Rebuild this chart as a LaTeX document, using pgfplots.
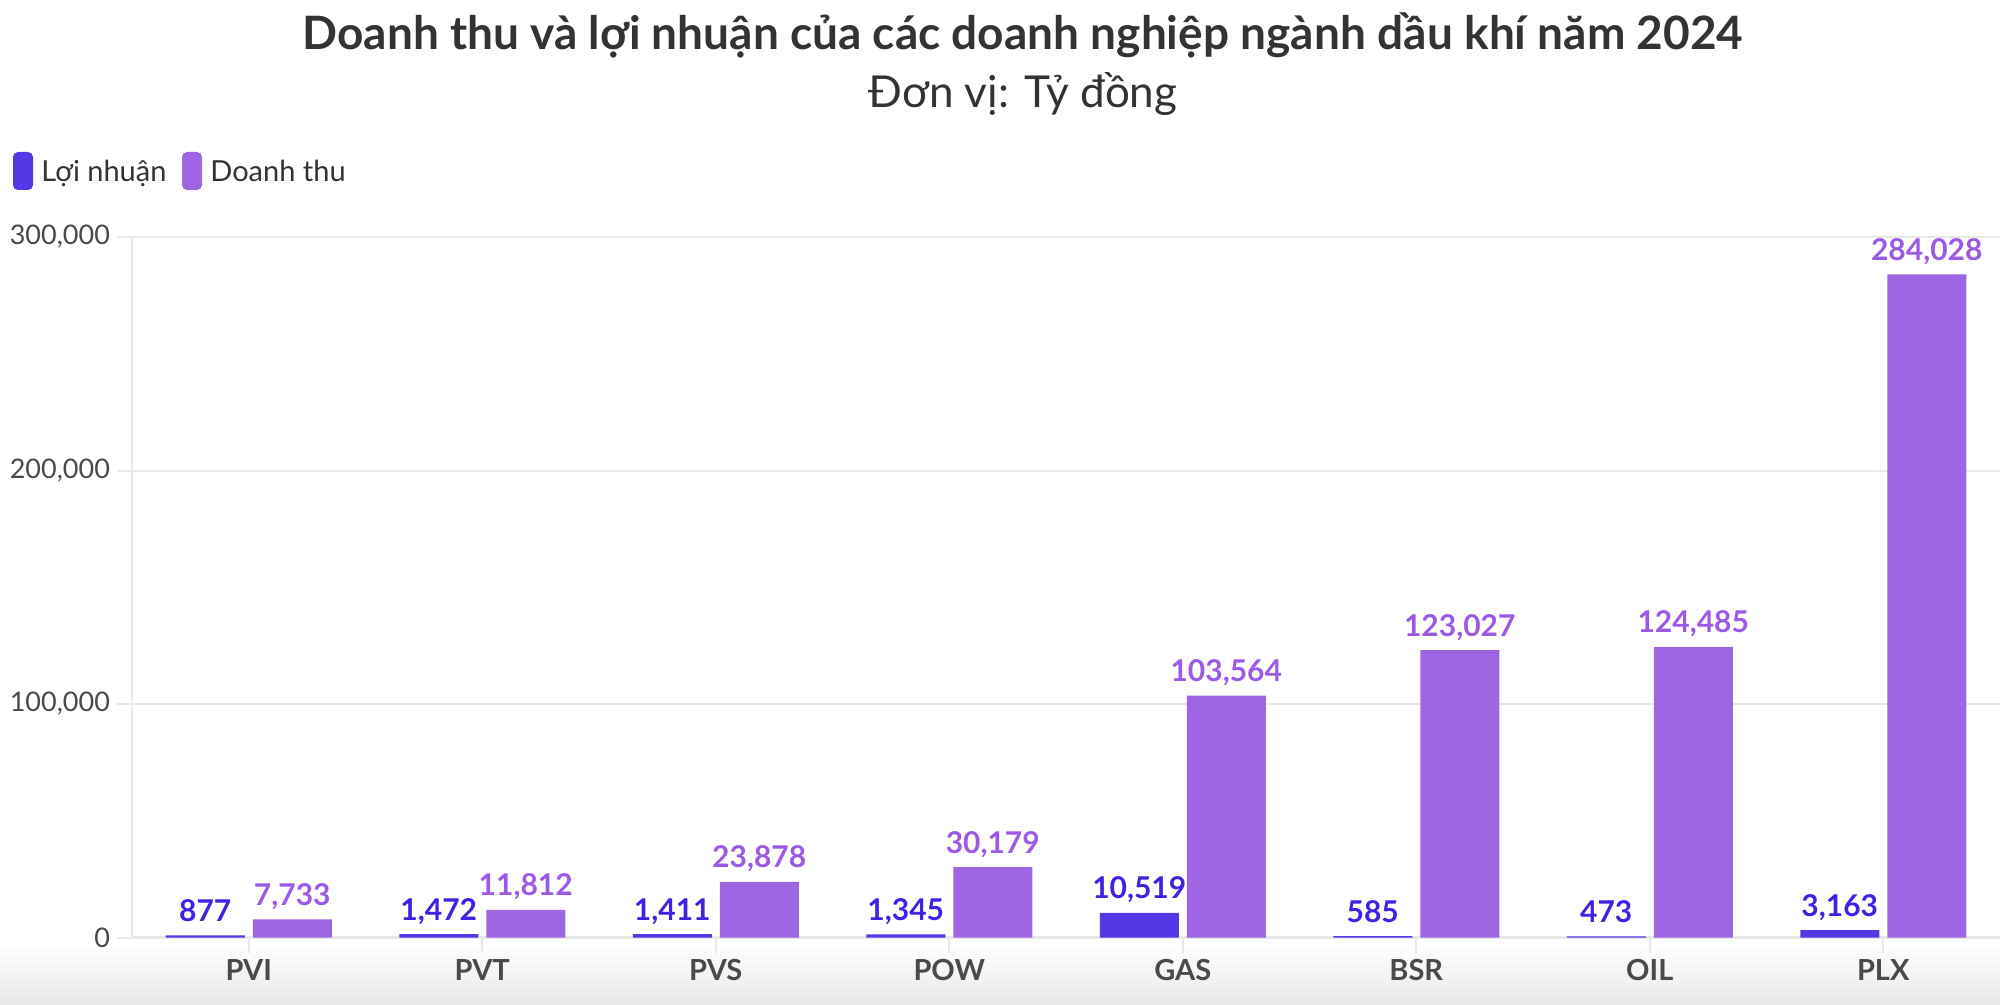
\documentclass[border=0pt]{standalone}
\usepackage{pgfplots}
\pgfplotsset{compat=1.18}
\usepackage{fontspec}
\setmainfont{Lato}
\definecolor{ln}{HTML}{5438E6}
\definecolor{lnlab}{HTML}{3F22E3}
\definecolor{dt}{HTML}{9F66E3}
\definecolor{dtlab}{HTML}{9B5AE6}
\definecolor{txt}{HTML}{333333}
\definecolor{tickc}{HTML}{4A4A4A}
\definecolor{gridc}{HTML}{E8E8E8}
\begin{document}
\begin{tikzpicture}
\shade[top color=white, bottom color=black!9] (0pt,-472pt) rectangle (1000pt,-502.5pt);
\node[anchor=base, font=\fontsize{23}{27}\selectfont\bfseries, text=txt, inner sep=0] at (511.5pt,-25pt) {Doanh thu và lợi nhuận của các doanh nghiệp ngành dầu khí năm 2024};
\node[anchor=base, font=\fontsize{22}{26}\selectfont, text=txt, inner sep=0] at (511.5pt,-54pt) {Đơn vị: Tỷ đồng};
\fill[ln, rounded corners=2.5pt] (6.5pt,-76pt) rectangle (16.5pt,-95pt);
\node[anchor=base west, inner sep=0, font=\fontsize{14.5}{17}\selectfont, text=txt] at (20.5pt,-91pt) {Lợi nhuận};
\fill[dt, rounded corners=2.5pt] (91pt,-76pt) rectangle (101pt,-95pt);
\node[anchor=base west, inner sep=0, font=\fontsize{14.5}{17}\selectfont, text=txt] at (105pt,-91pt) {Doanh thu};
\begin{axis}[
  at={(66pt,-468.75pt)}, anchor=south west,
  width=934pt, height=350.25pt, scale only axis,
  xmin=-0.5, xmax=7.5, ymin=0, ymax=300000,
  ybar, bar width=39.5pt,
  xtick={0,1,2,3,4,5,6,7}, xticklabels={PVI,PVT,PVS,POW,GAS,BSR,OIL,PLX},
  ytick={0,100000,200000,300000},
  scaled y ticks=false,
  /pgf/number format/fixed,
  /pgf/number format/precision=0,
  /pgf/number format/1000 sep={,},
  /pgf/number format/assume math mode=true,
  axis lines=left, axis line style={-, draw=gridc, line width=1.3pt},
  ymajorgrids, major grid style={draw=gridc, line width=1pt},
  tick align=outside, major tick length=7.5pt,
  tick style={draw=gridc, line width=1pt},
  xticklabel style={font=\fontsize{14.5}{16}\selectfont\bfseries, text=tickc},
  yticklabel style={font=\fontsize{13.5}{16}\selectfont, text=tickc},
  clip=false,
  nodes near coords,
  every node near coord/.append style={font=\fontsize{15}{17}\selectfont\bfseries, anchor=base, inner sep=0, yshift=7pt},
]
\addplot[fill=ln, draw=none, bar shift=-21.75pt, every node near coord/.append style={text=lnlab}] coordinates {(0,877) (1,1472) (2,1411) (3,1345) (4,10519) (5,585) (6,473) (7,3163)};
\addplot[fill=dt, draw=none, bar shift=21.75pt, every node near coord/.append style={text=dtlab}] coordinates {(0,7733) (1,11812) (2,23878) (3,30179) (4,103564) (5,123027) (6,124485) (7,284028)};
\end{axis}
\pgfresetboundingbox
\useasboundingbox (0,0) rectangle (1000pt,-502.5pt);
\end{tikzpicture}
\end{document}
